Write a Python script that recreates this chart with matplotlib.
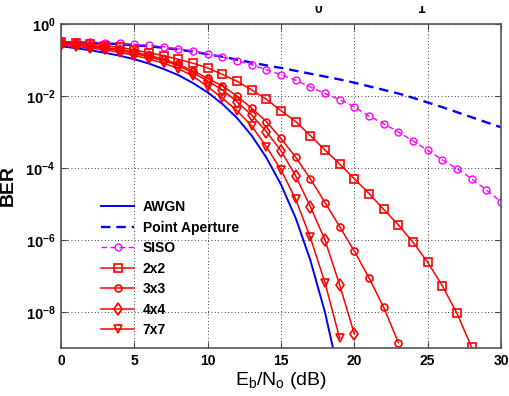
import numpy as np
import matplotlib
matplotlib.use("Agg")
import matplotlib.pyplot as plt
from matplotlib.patches import Rectangle

plt.rcParams['font.family'] = ['Liberation Sans', 'DejaVu Sans']
plt.rcParams['mathtext.fontset'] = 'custom'
plt.rcParams['mathtext.rm'] = 'Liberation Sans'
plt.rcParams['mathtext.it'] = 'Liberation Sans'
plt.rcParams['mathtext.bf'] = 'Liberation Sans:bold'

# ---- data (log10 of BER) ----
awgn_x = list(range(0, 20))
awgn_log = [-0.62, -0.67, -0.73, -0.80, -0.88, -0.98, -1.10, -1.25, -1.42, -1.64,
            -1.90, -2.22, -2.61, -3.10, -3.71, -4.46, -5.39, -6.56, -8.01, -9.83]

pa_x = list(range(0, 31))
pa_log = [-0.50, -0.51, -0.52, -0.54, -0.56, -0.59, -0.62, -0.66, -0.71, -0.77,
          -0.84, -0.91, -0.99, -1.07, -1.15, -1.22, -1.30, -1.38, -1.46, -1.54,
          -1.63, -1.73, -1.83, -1.93, -2.05, -2.18, -2.31, -2.45, -2.59, -2.73, -2.87]

siso_x = list(range(0, 31))
siso_log = [-0.49, -0.49, -0.51, -0.52, -0.54, -0.56, -0.59, -0.63, -0.69, -0.74,
            -0.83, -0.92, -1.02, -1.13, -1.27, -1.41, -1.56, -1.75, -1.93, -2.10,
            -2.30, -2.56, -2.77, -3.00, -3.25, -3.51, -3.77, -4.02, -4.30, -4.61, -4.94]

m2_x = list(range(0, 29))
m2_log = [-0.49, -0.53, -0.56, -0.60, -0.65, -0.72, -0.80, -0.88, -0.98, -1.09,
          -1.22, -1.40, -1.59, -1.83, -2.09, -2.41, -2.71, -3.10, -3.50, -3.89,
          -4.30, -4.71, -5.15, -5.58, -6.06, -6.62, -7.27, -8.04, -8.98]

m3_x = list(range(0, 24))
m3_log = [-0.52, -0.56, -0.60, -0.65, -0.71, -0.78, -0.87, -0.98, -1.12, -1.30,
          -1.51, -1.72, -2.00, -2.34, -2.71, -3.18, -3.70, -4.30, -4.96, -5.63,
          -6.31, -7.05, -7.87, -8.85]

m4_x = list(range(0, 21))
m4_log = [-0.55, -0.59, -0.63, -0.68, -0.74, -0.82, -0.91, -1.02, -1.16, -1.36,
          -1.58, -1.83, -2.16, -2.53, -2.99, -3.52, -4.22, -5.07, -6.00, -7.25, -8.61]

m7_x = list(range(0, 20))
m7_log = [-0.58, -0.62, -0.67, -0.72, -0.79, -0.87, -0.97, -1.09, -1.24, -1.45,
          -1.74, -2.06, -2.41, -2.83, -3.41, -4.05, -4.87, -5.93, -7.19, -8.73]

labels = ['AWGN', 'Point Aperture', 'SISO', '2x2', '3x3', '4x4', '7x7']
xticks = [0, 5, 10, 15, 20, 25, 30]
yticks_exp = [0, -2, -4, -6, -8]

fig = plt.figure(figsize=(5.09, 3.96), dpi=100)
ax = fig.add_axes([61/509, 1-348/396, 440/509, 324/396])

def b(v):
    return 10.0 ** np.array(v)

ax.semilogy(awgn_x, b(awgn_log), color='#0000ff', lw=1.4, label=labels[0])
ax.semilogy(pa_x, b(pa_log), color='#0000ff', lw=1.7, ls=(0, (4, 2.5)), label=labels[1])
ax.semilogy(siso_x, b(siso_log), color='#ff00ff', lw=1.0, ls=(0, (4, 2.5)),
            marker='o', ms=5.0, mfc='none', mew=1.0, label=labels[2])
mk = dict(color='#ff0000', lw=1.1, mfc='none', mew=1.2)
ax.semilogy(m2_x, b(m2_log), marker='s', ms=5.8, label=labels[3], **mk)
ax.semilogy(m3_x, b(m3_log), marker='o', ms=5.0, label=labels[4], **mk)
ax.semilogy(m4_x, b(m4_log), marker='d', ms=6.0, label=labels[5], **mk)
ax.semilogy(m7_x, b(m7_log), marker='v', ms=6.0, label=labels[6], **mk)

ax.set_xlim(0, 30)
ax.set_ylim(1e-9, 1)
ax.set_xticks(xticks)
ax.set_xticklabels([str(t) for t in xticks], fontweight='bold', fontsize=10)
ax.set_yticks([10.0 ** e for e in yticks_exp])
ax.set_yticklabels([r'$\mathbf{10^{%d}}$' % e for e in yticks_exp], fontsize=10.5)
ax.minorticks_off()
ax.tick_params(direction='in', length=4, width=0.8, top=True, right=True, pad=4,
               color='#444444')
for s in ax.spines.values():
    s.set_color('#555555')
    s.set_linewidth(1.2)
ax.grid(True, which='major', color='black', ls=(0, (1, 3)), lw=0.6)

ax.set_xlabel(r'E$_\mathregular{b}$/N$_\mathregular{o}$ (dB)', fontsize=14, labelpad=2)
ax.set_ylabel('BER', fontsize=14, fontweight='bold', labelpad=6)

leg = ax.legend(loc='upper left', bbox_to_anchor=(101/509, 1-200/396),
                bbox_transform=fig.transFigure, frameon=False, borderpad=0,
                borderaxespad=0, handlelength=2.4, handletextpad=0.6,
                labelspacing=0.47, prop={'weight': 'bold', 'size': 10})

# cut-off remnants of text above the figure
fig.text(318/509, 1-13/396, '0', fontsize=10, fontweight='bold', va='baseline', ha='center')
fig.text(421/509, 1-13/396, '1', fontsize=10, fontweight='bold', va='baseline', ha='center')
fig.patches.append(Rectangle((0, 1-6/396), 1, 6/396, transform=fig.transFigure,
                             facecolor='white', edgecolor='none', zorder=10))

fig.savefig('out.png', dpi=100, facecolor='white')
